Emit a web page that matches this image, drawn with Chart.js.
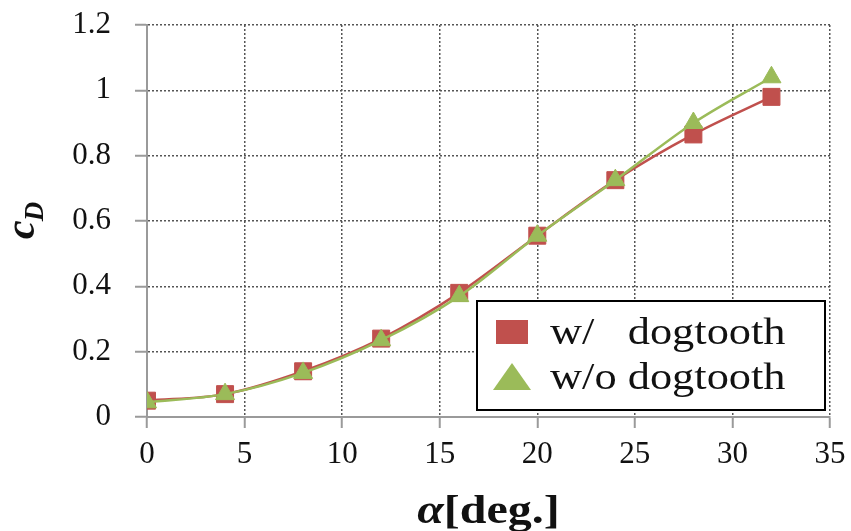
<!DOCTYPE html>
<html>
<head>
<meta charset="utf-8">
<script src="https://cdn.jsdelivr.net/npm/chart.js@4"></script>
<style>
  html, body { margin: 0; padding: 0; background: #fff; }
  #wrap { width: 851px; height: 531px; position: relative; }
</style>
</head>
<body>
<div id="wrap"><canvas id="cd-chart"></canvas></div>
<script>
const FONT = "'Liberation Serif', 'DejaVu Serif', serif"

const alpha = [0, 4, 8, 12, 16, 20, 24, 28, 32]
const cdWith = [0.05, 0.07, 0.14, 0.24, 0.38, 0.555, 0.725, 0.865, 0.98]
const cdWithout = [0.045, 0.07, 0.135, 0.235, 0.37, 0.555, 0.725, 0.9, 1.04]
const seriesNames = ['w/', 'w/o']
const xTicks = [0, 5, 10, 15, 20, 25, 30, 35]
const yTicks = [0, 0.2, 0.4, 0.6, 0.8, 1, 1.2]

const RED = '#C0504D'
const GREEN = '#9BBB59'
const STRETCH = 1.2 // the source picture is a bit wider than tall

const toPoints = (xs, ys) => xs.map((x, i) => ({ x, y: ys[i] }))

// legend in a boxed frame inside the plot, bottom right
const boxLegend = {
  id: 'boxLegend',
  afterDatasetsDraw (chart) {
    const { ctx, chartArea } = chart
    const w = 348, h = 109
    const left = chartArea.right - w - 5
    const top = chartArea.bottom - h - 7
    ctx.save()
    ctx.fillStyle = '#fff'
    ctx.fillRect(left, top, w, h)
    ctx.lineWidth = 2
    ctx.strokeStyle = '#000'
    ctx.strokeRect(left, top, w, h)

    const mx = left + 35

    // row 1 - square
    const y1 = top + 31
    ctx.fillStyle = RED
    ctx.fillRect(mx - 16, y1 - 12, 32, 24)
    // row 2 - triangle
    const y2 = top + 76
    ctx.fillStyle = GREEN
    ctx.beginPath()
    ctx.moveTo(mx, y2 - 14)
    ctx.lineTo(mx + 19, y2 + 13)
    ctx.lineTo(mx - 19, y2 + 13)
    ctx.closePath()
    ctx.fill()

    // labels, stretched horizontally like the source
    ctx.fillStyle = '#111'
    ctx.textBaseline = 'alphabetic'
    ctx.textAlign = 'left'
    ctx.font = '37px ' + FONT
    const tx = left + 73
    ctx.translate(tx, 0)
    ctx.scale(STRETCH, 1)
    const full = seriesNames[1] + ' dogtooth'
    const dogX = ctx.measureText(seriesNames[1] + ' ').width
    ctx.fillText(seriesNames[0], 0, y1 + 12)
    ctx.fillText('dogtooth', dogX, y1 + 12)
    ctx.fillText(full, 0, y2 + 12)
    ctx.restore()
  }
}

// axis titles with the italic symbols and the subscript
const axisTitles = {
  id: 'axisTitles',
  afterDraw (chart) {
    const { ctx, chartArea } = chart
    ctx.save()
    ctx.fillStyle = '#111'
    ctx.textBaseline = 'alphabetic'
    ctx.textAlign = 'left'

    // y title: c_D, rotated
    ctx.translate(34, 239)
    ctx.rotate(-Math.PI / 2)
    ctx.font = 'italic bold 42px ' + FONT
    ctx.fillText('c', 0, 0)
    const cw = ctx.measureText('c').width
    ctx.font = 'italic bold 27px ' + FONT
    ctx.fillText('D', cw - 1, 9)
    ctx.setTransform(1, 0, 0, 1, 0, 0)

    // x title: alpha[deg.]
    const cx = (chartArea.left + chartArea.right) / 2
    ctx.font = 'italic bold 40px ' + FONT
    const aw = ctx.measureText('α').width
    ctx.font = 'bold 40px ' + FONT
    const rest = '[deg.]'
    const rw = ctx.measureText(rest).width
    ctx.translate(cx - (aw + rw) * STRETCH / 2, 523)
    ctx.scale(STRETCH, 1)
    ctx.font = 'italic bold 40px ' + FONT
    ctx.fillText('α', 0, 0)
    ctx.font = 'bold 40px ' + FONT
    ctx.fillText(rest, aw, 0)
    ctx.restore()
  }
}

const gridOpts = (tickLength) => ({
  color: '#555',
  lineWidth: 1.5,
  drawTicks: true,
  tickLength,
  tickColor: '#9a9a9a',
  tickWidth: 2,
  tickBorderDash: []
})

const ctx = document.getElementById('cd-chart')

const chart = new Chart(ctx, {
  type: 'line',
  data: {
    datasets: [
      {
        label: 'w/ dogtooth',
        data: toPoints(alpha, cdWith),
        borderColor: RED,
        backgroundColor: RED,
        borderWidth: 2.5,
        pointStyle: 'rect',
        pointRadius: 12,
        pointBorderWidth: 1,
        tension: 0.4,
        cubicInterpolationMode: 'monotone',
        order: 2
      },
      {
        label: 'w/o dogtooth',
        data: toPoints(alpha, cdWithout),
        borderColor: GREEN,
        backgroundColor: GREEN,
        borderWidth: 2.5,
        pointStyle: 'triangle',
        pointRadius: 11,
        pointBorderWidth: 1,
        tension: 0.4,
        cubicInterpolationMode: 'monotone',
        order: 1
      }
    ]
  },
  options: {
    responsive: true,
    maintainAspectRatio: false,
    animation: false,
    layout: { padding: { top: 25, right: 21, left: 0, bottom: 0 } },
    plugins: {
      legend: { display: false },
      tooltip: { enabled: false }
    },
    scales: {
      x: {
        type: 'linear',
        min: 0,
        max: 35,
        afterBuildTicks: (s) => { s.ticks = xTicks.map(v => ({ value: v })) },
        afterFit: (s) => {
          s.height = 114
          s.paddingLeft = 0
          s.paddingRight = 0
        },
        ticks: {
          font: { family: FONT, size: 31 },
          color: '#111',
          padding: 8
        },
        grid: gridOpts(11),
        border: { display: true, color: '#9a9a9a', width: 2, dash: [2, 2] }
      },
      y: {
        type: 'linear',
        min: 0,
        max: 1.2,
        afterBuildTicks: (s) => { s.ticks = yTicks.map(v => ({ value: v })) },
        afterFit: (s) => {
          s.width = 147
          s.paddingTop = 0
          s.paddingBottom = 0
        },
        ticks: {
          font: { family: FONT, size: 31 },
          color: '#111',
          padding: 24,
          callback: (v) => String(Math.round(v * 10) / 10)
        },
        grid: gridOpts(12),
        border: { display: true, color: '#9a9a9a', width: 2, dash: [2, 2] }
      }
    }
  },
  plugins: [boxLegend, axisTitles]
})
</script>
</body>
</html>
